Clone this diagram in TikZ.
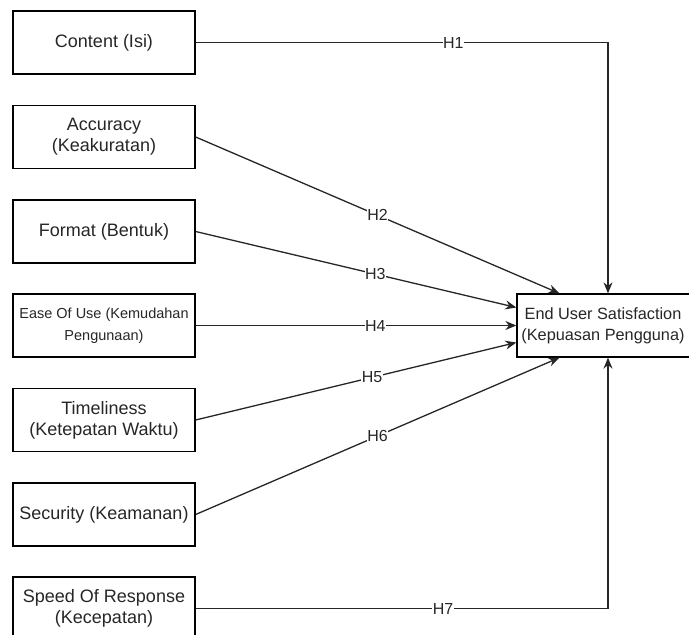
\documentclass[tikz,border=0pt]{standalone}
\usepackage{fontspec}
\setmainfont{Liberation Sans}
\usetikzlibrary{arrows.meta,calc}
\begin{document}
\begin{tikzpicture}[x=1pt,y=-1pt,
  box/.style={draw=black,line width=1.3pt,minimum width=182pt,minimum height=63pt,align=center,inner sep=0pt,
    font=\fontsize{18}{21}\selectfont,text=black!85},
  smallbox/.style={box,font=\fontsize{14.5}{22}\selectfont},
  conn/.style={draw=black!85,line width=1.3pt,-{Stealth[length=11pt,width=9pt]}},
  lbl/.style={fill=white,inner sep=0.5pt,font=\fontsize{16}{18}\selectfont,text=black!85}]
\useasboundingbox (0,0) rectangle (689,635);
\clip (0,0) rectangle (689,635);
\node[box] (c1) at (104,42.5) {Content (Isi)};
\node[box] (c2) at (104,137) {Accuracy\\(Keakuratan)};
\node[box] (c3) at (104,231.5) {Format (Bentuk)};
\node[smallbox] (c4) at (104,325.5) {Ease Of Use (Kemudahan\\Pengunaan)};
\node[box] (c5) at (104,420) {Timeliness\\(Ketepatan Waktu)};
\node[box] (c6) at (104,514.5) {Security (Keamanan)};
\node[box] (c7) at (104,608.5) {Speed Of Response\\(Kecepatan)};
\node[box] (end) at (608,325.5) {};
\node[align=center,inner sep=0pt,font=\fontsize{16.3}{21}\selectfont,text=black!85] (endtxt) at (603,325.5) {End User Satisfaction\\(Kepuasan Pengguna)};
\draw[conn] (c1.east) -| node[lbl,pos=0.3125] {H1} (end.north);
\draw[conn] (c2.east) -- node[lbl,pos=0.5] {H2} ($(end.north west)+(43,0)$);
\draw[conn] (c3.east) -- node[lbl,pos=0.56] {H3} ($(end.west)+(0,-18)$);
\draw[conn] (c4.east) -- node[lbl,pos=0.56] {H4} (end.west);
\draw[conn] (c5.east) -- node[lbl,pos=0.55] {H5} ($(end.west)+(0,17)$);
\draw[conn] (c6.east) -- node[lbl,pos=0.5] {H6} ($(end.south west)+(43,0)$);
\draw[conn] (c7.east) -| node[lbl,pos=0.3] {H7} (end.south);
\end{tikzpicture}
\end{document}
